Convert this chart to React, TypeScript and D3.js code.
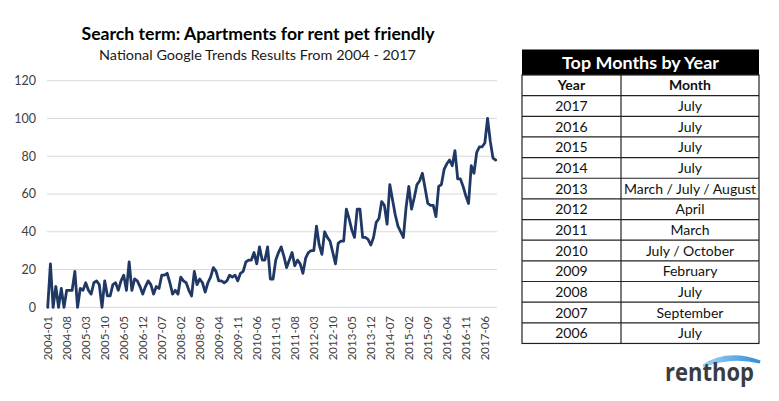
import React from "react";
import * as d3 from "d3";

// Monthly search interest, 2004-01 through 2017-10 (index 100 = peak)
const interest: number[] = [
  0, 23, 0, 11, 0, 10, 0, 9, 9, 9, 19, 0,
  10, 9, 13, 9, 7, 13, 14, 12, 0, 14, 6, 6,
  12, 13, 9, 14, 17, 9, 24, 9, 15, 14, 11, 7,
  11, 14, 12, 7, 11, 10, 17, 17, 18, 13, 7, 9,
  7, 16, 14, 13, 9, 6, 19, 12, 15, 13, 8, 13,
  16, 21, 19, 14, 14, 13, 14, 17, 16, 17, 14, 18,
  19, 24, 25, 25, 29, 23, 32, 25, 25, 32, 15, 15,
  25, 29, 32, 27, 21, 25, 29, 22, 25, 23, 18, 26,
  29, 30, 30, 43, 33, 28, 40, 37, 35, 29, 23, 34,
  35, 35, 52, 47, 41, 37, 52, 52, 37, 37, 36, 33,
  37, 45, 47, 56, 54, 44, 65, 57, 49, 43, 40, 37,
  53, 64, 52, 58, 65, 67, 71, 63, 55, 54, 54, 48,
  64, 65, 73, 76, 78, 75, 83, 68, 68, 64, 59, 55,
  75, 71, 82, 85, 85, 87, 100, 88, 79, 78,
];

const months: string[] = interest.map((_, i) => {
  const y = 2004 + Math.floor(i / 12);
  const m = (i % 12) + 1;
  return `${y}-${m < 10 ? "0" + m : m}`;
});

const xTickLabels: string[] = [
  "2004-01", "2004-08", "2005-03", "2005-10", "2006-05", "2006-12",
  "2007-07", "2008-02", "2008-09", "2009-04", "2009-11", "2010-06",
  "2011-01", "2011-08", "2012-03", "2012-10", "2013-05", "2013-12",
  "2014-07", "2015-02", "2015-09", "2016-04", "2016-11", "2017-06",
];

const yTicks: number[] = [0, 20, 40, 60, 80, 100, 120];

const tableYears: string[] = [
  "2017", "2016", "2015", "2014", "2013", "2012",
  "2011", "2010", "2009", "2008", "2007", "2006",
];
const tableMonths: string[] = [
  "July", "July", "July", "July", "March / July / August", "April",
  "March", "July / October", "February", "July", "September", "July",
];

const FONT = "Lato, 'Open Sans', sans-serif";

export default function App() {
  const W = 779;
  const H = 401;

  const x = d3.scalePoint<string>().domain(months).range([47.7, 495.7]);
  const y = d3.scaleLinear().domain([0, 120]).range([307.3, 80.7]);

  const line = d3
    .line<number>()
    .x((_, i) => x(months[i]) as number)
    .y((d) => y(d))
    .curve(d3.curveLinear);

  // table geometry
  const tL = 522;
  const tR = 759;
  const tMid = 621;
  const tTop = 49.5;
  const headH = 25.5;
  const rowH = 20.65;
  const rowsTop = tTop + headH;
  const nRows = tableYears.length + 1;
  const tBottom = rowsTop + nRows * rowH;

  return (
    <svg
      width={W}
      height={H}
      style={{ position: "absolute", left: 0, top: 0, background: "#fff" }}
      fontFamily={FONT}
    >
      <rect x={0} y={0} width={W} height={H} fill="#fff" />

      {/* titles */}
      <text
        x={258}
        y={40}
        textAnchor="middle"
        fontSize={16.5}
        fontWeight={700}
        fill="#000"
        textLength={353}
        lengthAdjust="spacingAndGlyphs"
      >
        Search term: Apartments for rent pet friendly
      </text>
      <text
        x={257.5}
        y={60}
        textAnchor="middle"
        fontSize={13}
        fill="#1a1a1a"
        textLength={317}
        lengthAdjust="spacingAndGlyphs"
      >
        National Google Trends Results From 2004 - 2017
      </text>

      {/* grid */}
      {yTicks.map((t) => (
        <g key={t}>
          <line
            x1={47}
            x2={497}
            y1={y(t)}
            y2={y(t)}
            stroke="#d9d9d9"
            strokeWidth={1}
          />
          <text
            x={36}
            y={y(t)}
            dy="0.35em"
            textAnchor="end"
            fontSize={12.5}
            fill="#404040"
          >
            {t}
          </text>
        </g>
      ))}

      {/* x labels */}
      {xTickLabels.map((lab) => {
        const px = x(lab) as number;
        return (
          <text
            key={lab}
            transform={`translate(${px + 4.5},${316}) rotate(-90)`}
            textAnchor="end"
            fontSize={11.5}
            fill="#404040"
          >
            {lab}
          </text>
        );
      })}

      {/* series */}
      <path
        d={line(interest) || ""}
        fill="none"
        stroke="#1f3864"
        strokeWidth={2.8}
        strokeLinejoin="round"
        strokeLinecap="round"
      />

      {/* table */}
      <rect x={tL} y={tTop} width={tR - tL} height={headH} fill="#000" />
      <text
        x={(tL + tR) / 2}
        y={tTop + headH / 2}
        dy="0.36em"
        textAnchor="middle"
        fontSize={17.5}
        fontWeight={700}
        fill="#fff"
        textLength={157}
        lengthAdjust="spacingAndGlyphs"
      >
        Top Months by Year
      </text>
      <rect
        x={tL}
        y={rowsTop}
        width={tR - tL}
        height={tBottom - rowsTop}
        fill="none"
        stroke="#222"
        strokeWidth={1.2}
      />
      <line x1={tMid} x2={tMid} y1={rowsTop} y2={tBottom} stroke="#222" strokeWidth={1.2} />
      {d3.range(1, nRows).map((r) => (
        <line
          key={r}
          x1={tL}
          x2={tR}
          y1={rowsTop + r * rowH}
          y2={rowsTop + r * rowH}
          stroke="#222"
          strokeWidth={1.2}
        />
      ))}
      <text
        x={(tL + tMid) / 2}
        y={rowsTop + rowH / 2}
        dy="0.36em"
        textAnchor="middle"
        fontSize={14}
        fontWeight={700}
        fill="#111"
      >
        Year
      </text>
      <text
        x={(tMid + tR) / 2}
        y={rowsTop + rowH / 2}
        dy="0.36em"
        textAnchor="middle"
        fontSize={14}
        fontWeight={700}
        fill="#111"
      >
        Month
      </text>
      {tableYears.map((yr, i) => {
        const cy = rowsTop + (i + 1) * rowH + rowH / 2;
        return (
          <g key={yr}>
            <text x={(tL + tMid) / 2} y={cy} dy="0.36em" textAnchor="middle" fontSize={14} fill="#111">
              {yr}
            </text>
            <text x={(tMid + tR) / 2} y={cy} dy="0.36em" textAnchor="middle" fontSize={14} fill="#111">
              {tableMonths[i]}
            </text>
          </g>
        );
      })}

      {/* logo */}
      <defs>
        <linearGradient id="hopArc" x1="0" x2="1" y1="0" y2="0">
          <stop offset="0" stopColor="#9fd3f5" />
          <stop offset="1" stopColor="#2f8fd8" />
        </linearGradient>
      </defs>
      <path
        d="M703,366 Q728,350 760,362 Q730,355 703,366 Z"
        fill="none"
        stroke="url(#hopArc)"
        strokeWidth={3}
        strokeLinecap="round"
      />
      <text
        x={665}
        y={381}
        fontSize={25}
        fontWeight={700}
        fill="#3a3d40"
        fontFamily="'Open Sans', sans-serif"
        textLength={89}
        lengthAdjust="spacingAndGlyphs"
      >
        renthop
      </text>
    </svg>
  );
}
